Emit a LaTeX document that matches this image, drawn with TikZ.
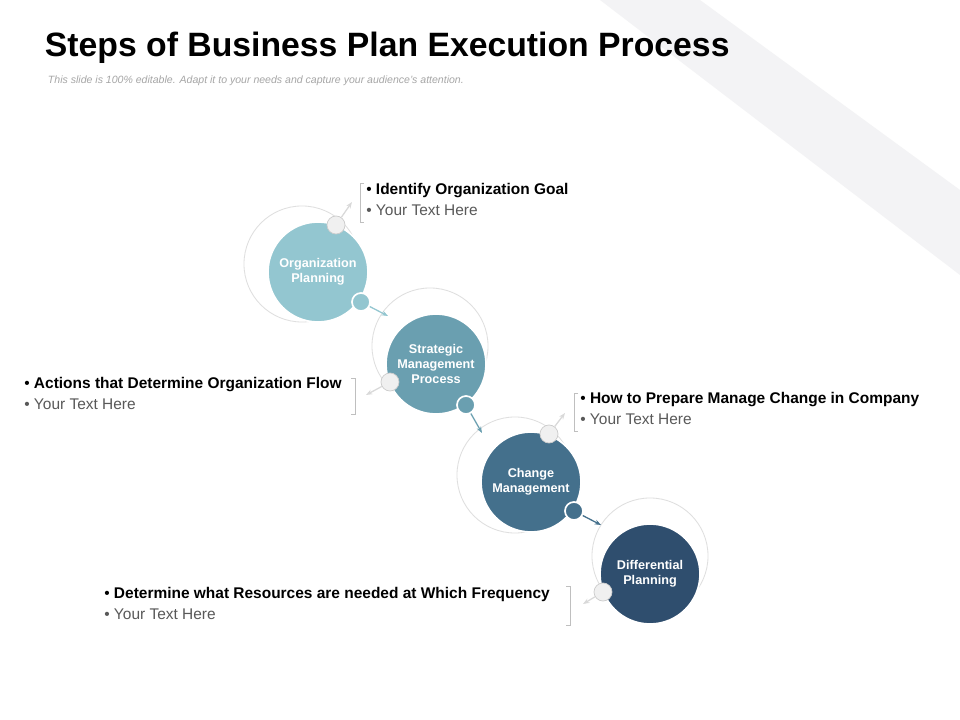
\documentclass[tikz,border=0pt]{standalone}
\usepackage{fontspec}
\setmainfont{Liberation Sans}
\usetikzlibrary{arrows.meta, positioning}
\definecolor{stepone}{HTML}{93C6D0}
\definecolor{steptwo}{HTML}{6A9FB0}
\definecolor{stepthree}{HTML}{44708C}
\definecolor{stepfour}{HTML}{2F4E6E}
\definecolor{bandgray}{HTML}{F3F3F5}
\definecolor{txtgray}{HTML}{595959}

\tikzset{
  stepcircle/.style={circle, minimum size=2.5cm, inner sep=0pt, draw=white, line width=1.2pt,
    text=white, font=\fontsize{9}{11}\selectfont\bfseries, align=center},
  backring/.style={circle, minimum size=2.9cm, fill=white, draw=gray!25, line width=0.6pt},
  knob/.style={circle, minimum size=0.45cm, inner sep=0pt, draw=white, line width=1.2pt},
  whiteknob/.style={knob, fill=gray!12, draw=gray!40, line width=0.5pt},
  link/.style={-{Stealth[length=1.6mm]}, line width=0.9pt},
  bullets/.style={align=left, font=\fontsize{11}{15}\selectfont, inner sep=0pt},
  brk/.style={draw=gray!50, line width=0.5pt}
}

\begin{document}
\begin{tikzpicture}[x=0.025cm, y=-0.025cm]

    \useasboundingbox (0,0) rectangle (960,720);
    \fill[white] (0,0) rectangle (960,720);
    \fill[bandgray] (600,0) -- (700,0) -- (960,190) -- (960,275) -- cycle;

    % title
    \node[anchor=west, font=\fontsize{24}{28}\selectfont\bfseries] (title) at (40,48) {Steps of Business Plan Execution Process};
    \node[anchor=west, font=\fontsize{7.5}{9}\selectfont\itshape, text=gray!70] (sub) at (43,81) {This slide is 100\% editable. Adapt it to your needs and capture your audience's attention.};

    % back rings
    \node[backring] (b1) at (302,264) {};
    \node[backring] (b2) at (430,346) {};
    \node[backring] (b3) at (515,475) {};
    \node[backring] (b4) at (650,556) {};

    % circles
    \node[stepcircle, fill=stepone] (c1) at (318,272) {Organization\\Planning};
    \node[stepcircle, fill=steptwo] (c2) at (436,364) {Strategic\\Management\\Process};
    \node[stepcircle, fill=stepthree] (c3) at (531,482) {Change\\Management};
    \node[stepcircle, fill=stepfour] (c4) at (650,574) {Differential\\Planning};

    % knobs
    \node[knob, fill=stepone] (k1) at (361,302) {};
    \node[knob, fill=steptwo] (k2) at (466,405) {};
    \node[knob, fill=stepthree] (k3) at (574,511) {};
    \node[whiteknob] (w1) at (336,225) {};
    \node[whiteknob] (w2) at (390,382) {};
    \node[whiteknob] (w3) at (549,434) {};
    \node[whiteknob] (w4) at (603,592) {};

    \coordinate (a1) at (388,316);
    \coordinate (a2) at (482,433);
    \coordinate (a3) at (601,525);
    \coordinate (e1) at (352,202);
    \coordinate (e2) at (366,395);
    \coordinate (e3) at (565,413);
    \coordinate (e4) at (583,604);

    \draw[link, stepone] (k1) -- (a1);
    \draw[link, steptwo] (k2) -- (a2);
    \draw[link, stepthree] (k3) -- (a3);
    \draw[link, gray!30] (w1) -- (e1);
    \draw[link, gray!30] (w2) -- (e2);
    \draw[link, gray!30] (w3) -- (e3);
    \draw[link, gray!30] (w4) -- (e4);

    % brackets
    \draw[brk] (364,183) -- (360,183) -- (360,222) -- (364,222);
    \draw[brk] (351,378) -- (355,378) -- (355,414) -- (351,414);
    \draw[brk] (578,393) -- (574,393) -- (574,431) -- (578,431);
    \draw[brk] (566,586) -- (570,586) -- (570,625) -- (566,625);

    % texts
    \node[bullets, anchor=north west] (t1) at (366,183) {\textbullet\ \textbf{Identify Organization Goal}\\\textcolor{txtgray}{\textbullet\ Your Text Here}};
    \node[bullets, anchor=north west] (t2) at (24,377) {\textbullet\ \textbf{Actions that Determine Organization Flow}\\\textcolor{txtgray}{\textbullet\ Your Text Here}};
    \node[bullets, anchor=north west] (t3) at (580,392) {\textbullet\ \textbf{How to Prepare Manage Change in Company}\\\textcolor{txtgray}{\textbullet\ Your Text Here}};
    \node[bullets, anchor=north west] (t4) at (104,587) {\textbullet\ \textbf{Determine what Resources are needed at Which Frequency}\\\textcolor{txtgray}{\textbullet\ Your Text Here}};

\end{tikzpicture}
\end{document}
